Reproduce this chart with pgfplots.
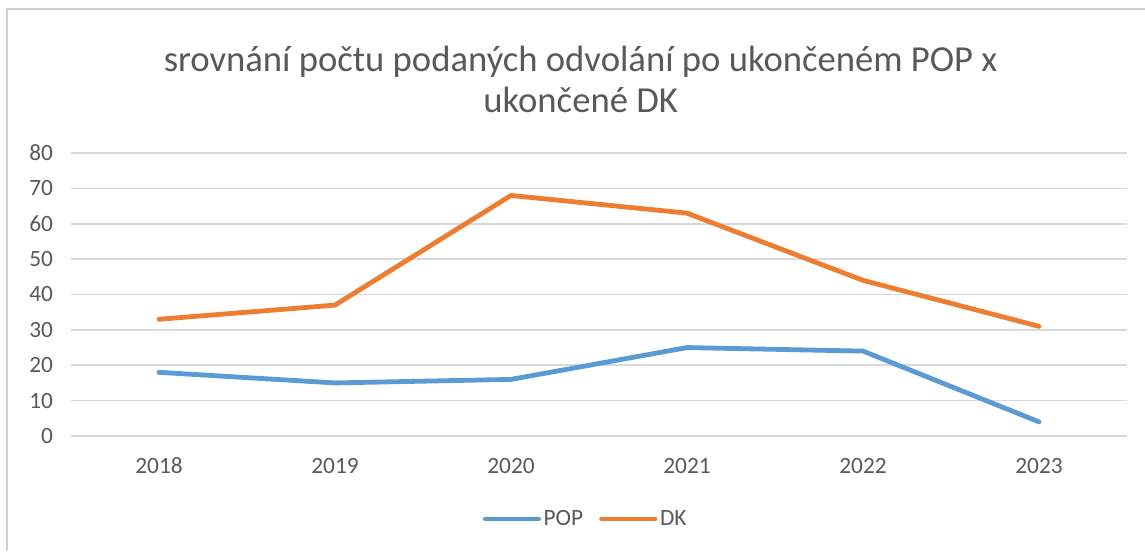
\documentclass[border=0pt]{standalone}
\usepackage{fontspec}
\setmainfont{Carlito}
\usepackage{pgfplots}
\pgfplotsset{compat=1.18}
\definecolor{popblue}{HTML}{5B9BD5}
\definecolor{dkorange}{HTML}{ED7D31}
\definecolor{gridgray}{HTML}{D9D9D9}
\definecolor{txtgray}{HTML}{595959}
\definecolor{framegray}{HTML}{D0D0D0}
\begin{document}
\begin{tikzpicture}
\path[use as bounding box, fill=white] (0pt,0pt) rectangle (858.75pt,413.25pt);
\draw[framegray, line width=1.2pt] (5.25pt,0pt) -- (5.25pt,406.5pt) -- (858.75pt,406.5pt);
\node[text=txtgray, font=\fontsize{27.5}{32}\selectfont] at (435.5pt,366.75pt) {srovnání počtu podaných odvolání po ukončeném POP x};
\node[text=txtgray, font=\fontsize{27.5}{32}\selectfont] at (435.5pt,338.25pt) {ukončené DK};
\begin{axis}[
  at={(53.25pt,86.25pt)}, anchor=south west,
  width=792pt, height=212.25pt, scale only axis,
  xmin=-0.5, xmax=5.5, ymin=0, ymax=80,
  xtick={0,...,5}, xticklabels={2018,2019,2020,2021,2022,2023},
  ytick={0,10,...,80},
  axis line style={draw=none},
  major tick length=0pt,
  tick style={draw=none},
  ymajorgrids, grid style={gridgray, line width=1.2pt},
  /pgf/number format/assume math mode=true,
  ticklabel style={font=\fontsize{17.5}{20}\selectfont, text=txtgray},
  yticklabel style={anchor=east, xshift=-10pt},
  xticklabel style={anchor=north, yshift=-13pt},
  legend style={at={(0.4877,-0.293)}, anchor=center, draw=none, fill=none,
    legend columns=2, font=\fontsize{17.5}{20}\selectfont, text=txtgray,
    /tikz/every even column/.append style={column sep=10pt}},
  legend image code/.code={\draw[#1, line cap=round] (0pt,0pt) -- (40pt,0pt);},
]
\addplot[popblue, line width=3.6pt, line cap=round, line join=round] coordinates {(0,18) (1,15) (2,16) (3,25) (4,24) (5,4)};
\addlegendentry{POP}
\addplot[dkorange, line width=3.6pt, line cap=round, line join=round] coordinates {(0,33) (1,37) (2,68) (3,63) (4,44) (5,31)};
\addlegendentry{DK}
\end{axis}
\end{tikzpicture}
\end{document}
